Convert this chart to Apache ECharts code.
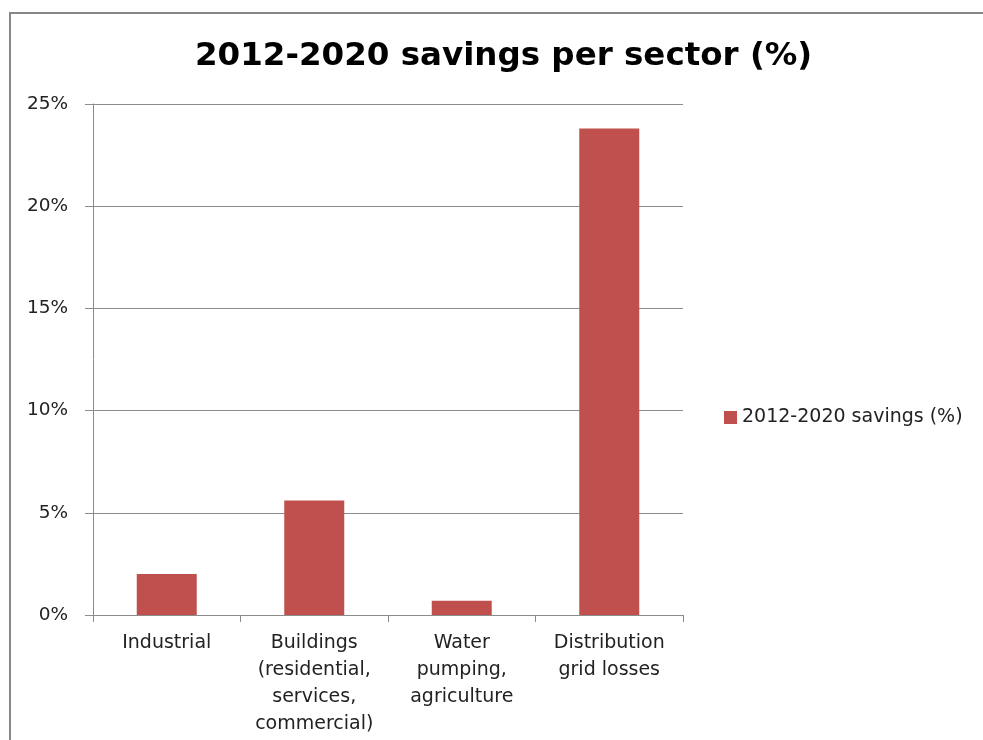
<!DOCTYPE html>
<html>
<head>
<meta charset="utf-8">
<script src="https://cdn.jsdelivr.net/npm/echarts@6/dist/echarts.min.js"></script>
<style>
  html, body { margin: 0; padding: 0; background: #fff; }
  #chart { width: 983px; height: 740px; }
</style>
</head>
<body>
<div id="chart"></div>
<script>
// Sector savings, 2012-2020
const sectors = [
  'Industrial',
  'Buildings\n(residential,\nservices,\ncommercial)',
  'Water\npumping,\nagriculture',
  'Distribution\ngrid losses'
];
const savingsPct = [2.0, 5.6, 0.7, 23.8];
const seriesName = '2012-2020 savings (%)';
const titleText = '2012-2020 savings per sector (%)';

const labelFont = '"DejaVu Sans", sans-serif';
const chart = echarts.init(document.getElementById('chart'), null, { renderer: 'canvas' });

chart.setOption({
  animation: false,
  backgroundColor: '#ffffff',
  graphic: [{
    type: 'rect',
    shape: { x: 10, y: 13, width: 990, height: 740 },
    style: { fill: 'none', stroke: '#878787', lineWidth: 2 },
    silent: true,
    z: -1
  }],
  title: {
    text: titleText,
    left: 190,
    top: 35,
    textStyle: {
      fontFamily: '"DejaVu Sans", sans-serif',
      fontWeight: 'bold',
      fontSize: 32.5,
      color: '#000'
    }
  },
  legend: {
    orient: 'vertical',
    left: 719,
    top: 403,
    itemWidth: 13,
    itemHeight: 13,
    itemGap: 8,
    icon: 'rect',
    textStyle: { fontFamily: labelFont, fontSize: 19, color: '#222' },
    data: [seriesName]
  },
  grid: {
    left: 93,
    top: 104,
    width: 590,
    height: 511,
    containLabel: false
  },
  xAxis: {
    type: 'category',
    data: sectors,
    boundaryGap: true,
    axisLine: { show: true, lineStyle: { color: '#8c8c8c', width: 1 } },
    axisTick: { show: true, alignWithLabel: false, length: 7, lineStyle: { color: '#8c8c8c' } },
    axisLabel: {
      interval: 0,
      margin: 15,
      fontFamily: labelFont,
      fontSize: 19,
      lineHeight: 27,
      color: '#222',
      align: 'center'
    }
  },
  yAxis: {
    type: 'value',
    min: 0,
    max: 25,
    interval: 5,
    axisLine: { show: true, lineStyle: { color: '#8c8c8c', width: 1 } },
    axisTick: { show: true, length: 8, lineStyle: { color: '#8c8c8c' } },
    splitLine: { show: true, lineStyle: { color: '#8c8c8c', width: 1 } },
    axisLabel: {
      margin: 25,
      fontFamily: labelFont,
      fontSize: 18.5,
      color: '#222',
      formatter: v => v + '%'
    }
  },
  series: [{
    name: seriesName,
    type: 'bar',
    data: savingsPct,
    barWidth: 60,
    itemStyle: { color: '#c0504d' }
  }]
});
</script>
</body>
</html>
